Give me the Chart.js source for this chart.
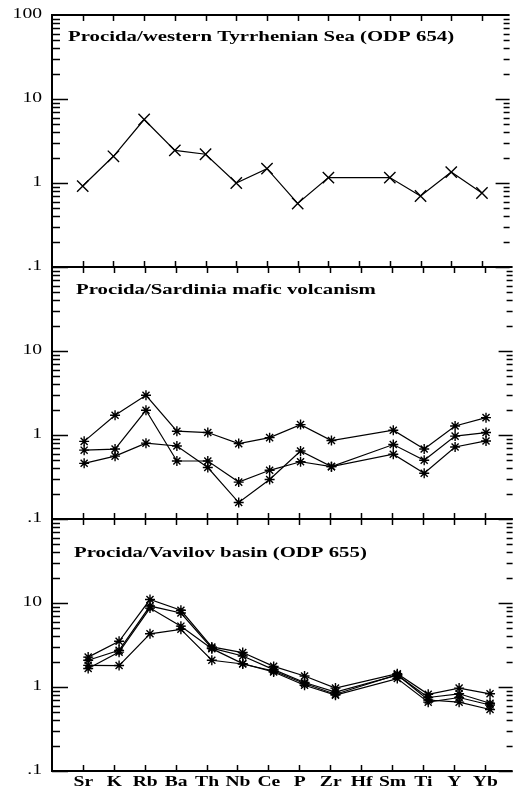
<!DOCTYPE html>
<html>
<head>
<meta charset="utf-8">
<script src="https://cdn.jsdelivr.net/npm/chart.js@4.4.1/dist/chart.umd.min.js"></script>
<style>
  html, body { margin: 0; padding: 0; background: #fff; overflow: hidden; }
  #wrap { position: relative; width: 519px; height: 787px; }
  #wrap canvas { position: absolute; left: 0; top: 0; }
</style>
</head>
<body>
<div id="wrap">
  <canvas id="p1" width="519" height="787"></canvas>
  <canvas id="p2" width="519" height="787"></canvas>
  <canvas id="p3" width="519" height="787"></canvas>
</div>
<script>
// element order along the x axis (Hf has no data)
const elements = ['Sr', 'K', 'Rb', 'Ba', 'Th', 'Nb', 'Ce', 'P', 'Zr', 'Hf', 'Sm', 'Ti', 'Y', 'Yb'];
const yTickValues = [0.1, 1, 10, 100];
const yTickLabels = ['.1', '1', '10', '100'];

// Procida / western Tyrrhenian Sea (ODP 654)
const odp654 = [0.92, 2.08, 5.7, 2.45, 2.2, 1.0, 1.48, 0.57, 1.16, null, 1.16, 0.70, 1.35, 0.76];

// Procida / Sardinia mafic volcanism
const sardiniaA = [0.84, 1.72, 2.97, 1.11, 1.07, 0.79, 0.93, 1.33, 0.86, null, 1.14, 0.68, 1.28, 1.61];
const sardiniaB = [0.66, 0.68, 1.97, 0.49, 0.49, 0.275, 0.38, 0.48, 0.42, null, 0.77, 0.50, 0.97, 1.07];
const sardiniaC = [0.46, 0.56, 0.80, 0.74, 0.41, 0.157, 0.295, 0.645, 0.42, null, 0.59, 0.35, 0.72, 0.85];

// Procida / Vavilov basin (ODP 655)
const vavilov1 = [2.27, 3.5, 11.0, 8.2, 3.0, 2.57, 1.76, 1.35, 0.97, null, 1.44, 0.82, 0.97, 0.83];
const vavilov2 = [2.08, 2.73, 9.2, 7.6, 2.9, 2.34, 1.61, 1.13, 0.87, null, 1.38, 0.75, 0.83, 0.64];
const vavilov3 = [1.66, 2.6, 8.7, 5.3, 2.86, 1.9, 1.51, 1.05, 0.80, null, 1.26, 0.66, 0.75, 0.61];
const vavilov4 = [1.81, 1.8, 4.3, 4.86, 2.08, 1.88, 1.55, 1.10, 0.82, null, 1.40, 0.70, 0.66, 0.54];

const SX = 1.4; // the original lettering is stretched sideways
const serif = "'Liberation Serif', 'Times New Roman', serif";

function stretchText(ctx, text, x, y, align, baseline, sx) {
    ctx.save();
    ctx.translate(x, y);
    ctx.scale(sx || SX, 1);
    ctx.textAlign = align;
    ctx.textBaseline = baseline;
    ctx.fillText(text, 0, 0);
    ctx.restore();
}

const framePlugin = {
    id: 'frame',
    afterDraw(chart, args, opts) {
        const { ctx, chartArea: a, scales: { x, y } } = chart;
        ctx.save();
        ctx.strokeStyle = '#000';
        ctx.fillStyle = '#000';

        // frame: left, top, bottom
        ctx.lineWidth = 2;
        ctx.beginPath();
        ctx.moveTo(a.left, a.top); ctx.lineTo(a.right, a.top);
        ctx.moveTo(a.left, a.bottom); ctx.lineTo(a.right, a.bottom);
        ctx.moveTo(a.left, a.top - 1); ctx.lineTo(a.left, a.bottom + 1);
        ctx.stroke();

        // category ticks, inward on top and bottom
        ctx.lineWidth = 1.5;
        ctx.beginPath();
        elements.forEach((el, i) => {
            const px = Math.round(x.getPixelForValue(i)) + 0.5;
            ctx.moveTo(px, a.top); ctx.lineTo(px, a.top + 6);
            ctx.moveTo(px, a.bottom); ctx.lineTo(px, a.bottom - 6);
        });
        ctx.stroke();

        // log ticks on both sides
        ctx.lineWidth = 1.6;
        ctx.beginPath();
        [0.1, 1, 10].forEach(d => {
            for (let m = 1; m <= 9; m++) {
                const py = Math.round(y.getPixelForValue(d * m)) + 0.5;
                const len = m === 1 ? 16 : 8;
                const rlen = m === 1 ? 14 : 6;
                ctx.moveTo(a.left, py); ctx.lineTo(a.left + len, py);
                ctx.moveTo(a.right, py); ctx.lineTo(a.right - rlen, py);
            }
        });
        ctx.stroke();

        // y labels
        ctx.font = '14px ' + serif;
        yTickValues.forEach((v, i) => {
            if (v === 100 && !opts.show100) return;
            stretchText(ctx, yTickLabels[i], 42, y.getPixelForValue(v) - 0.5, 'right', 'middle');
        });

        // panel title
        ctx.font = 'bold 14px ' + serif;
        stretchText(ctx, opts.title, opts.titleX, opts.titleY, 'left', 'alphabetic', 1.485);

        // element labels
        if (opts.xLabels) {
            elements.forEach((el, i) => {
                stretchText(ctx, el, x.getPixelForValue(i) + 0.5, 786, 'center', 'alphabetic');
            });
        }
        ctx.restore();
    }
};

function series(values, shift, style, radius) {
    return {
        data: values.map((v, i) => ({ x: i + shift, y: v })),
        borderColor: '#000',
        backgroundColor: '#000',
        borderWidth: 1.2,
        pointStyle: style,
        pointRadius: radius,
        pointBorderWidth: 1.4,
        pointBorderColor: '#000',
        spanGaps: true,
        tension: 0
    };
}

function makePanel(id, datasets, top, bottom, frameOpts) {
    return new Chart(document.getElementById(id), {
        type: 'line',
        data: { datasets },
        options: {
            responsive: false,
            animation: false,
            devicePixelRatio: 1,
            layout: { padding: { left: 52, right: 0, top: top, bottom: 787 - bottom } },
            plugins: { legend: { display: false }, tooltip: { enabled: false }, frame: frameOpts },
            scales: {
                x: { type: 'linear', min: -1, max: 13.9, display: false },
                y: { type: 'logarithmic', min: 0.1, max: 100, display: false }
            }
        },
        plugins: [framePlugin]
    });
}

makePanel('p1', [series(odp654, 0, 'crossRot', 8)], 15, 267, {
    title: 'Procida/western Tyrrhenian Sea (ODP 654)', titleX: 68, titleY: 40.5, show100: true, xLabels: false
});

makePanel('p2', [
    series(sardiniaA, 0.04, 'star', 5),
    series(sardiniaB, 0.04, 'star', 5),
    series(sardiniaC, 0.04, 'star', 5)
], 267, 519, {
    title: 'Procida/Sardinia mafic volcanism', titleX: 76, titleY: 294, show100: false, xLabels: false
});

makePanel('p3', [
    series(vavilov1, 0.17, 'star', 5),
    series(vavilov2, 0.17, 'star', 5),
    series(vavilov3, 0.17, 'star', 5),
    series(vavilov4, 0.17, 'star', 5)
], 519, 771, {
    title: 'Procida/Vavilov basin (ODP 655)', titleX: 74, titleY: 556.5, show100: false, xLabels: true
});
</script>
</body>
</html>
